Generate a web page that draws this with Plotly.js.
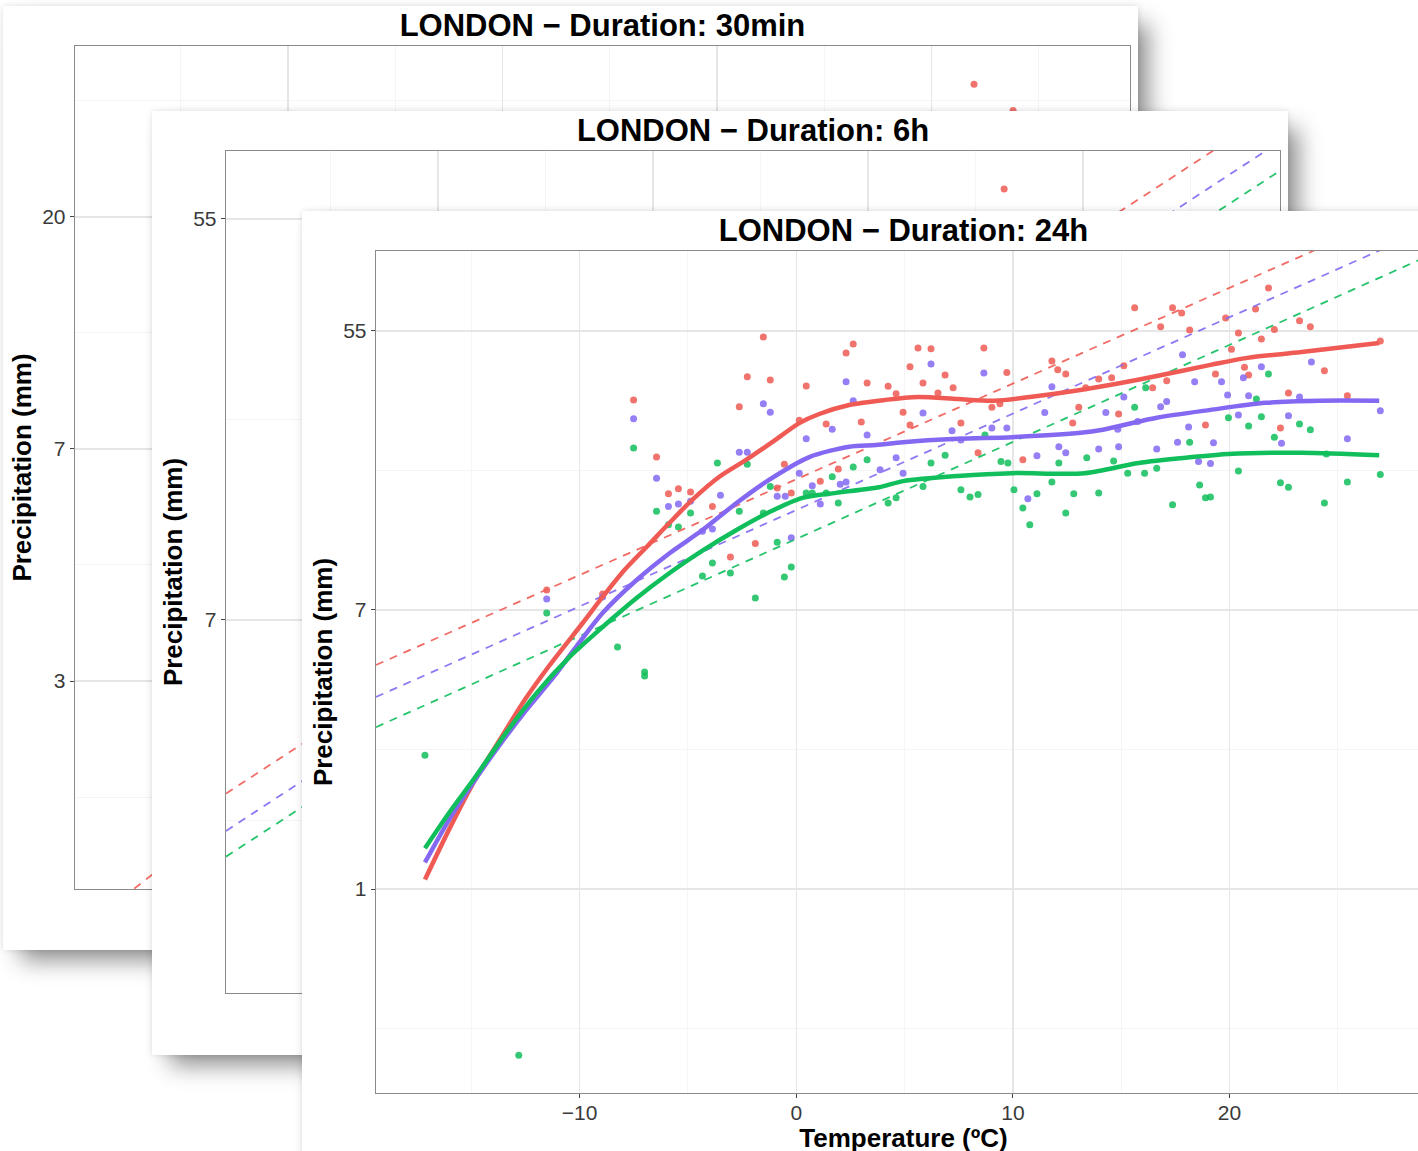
<!DOCTYPE html>
<html><head><meta charset="utf-8">
<script src="https://cdn.plot.ly/plotly-3.0.1.min.js"></script>
<style>
html,body{margin:0;padding:0;background:#fff;overflow:hidden;width:1418px;height:1151px;position:relative;}
.card{position:absolute;background:#fff;box-shadow:14px 14px 22px -4px rgba(0,0,0,0.45),0 0 6px rgba(0,0,0,0.12);}
</style></head><body>
<div id="p30" class="card" style="left:3px;top:6px;width:1135px;height:944px;z-index:1"></div>
<div id="p6" class="card" style="left:152px;top:111px;width:1136px;height:944px;z-index:2"></div>
<div id="p24" class="card" style="left:302px;top:211px;width:1137px;height:944px;z-index:3"></div>
<script>
// ---------- colours ----------
var RED = '#EF5B54', BLUE = '#8468F2', GREEN = '#10BE5C';
var FONT = '"Liberation Sans", Arial, Helvetica, sans-serif';

// ---------- x axis ticks (all panels) ----------
var xTickVals = [-10, 0, 10, 20];
var xTickText = ['\u221210', '0', '10', '20'];
var xMinorVals = [-15, -5, 5, 15, 25];

// ---------- Panel: LONDON - Duration: 24h ----------
var red24T = [-11.52,-8.94,-7.51,-6.45,-5.90,-5.44,-4.88,-3.87,-3.04,-2.63,-2.26,-1.52,-1.20,-1.89,-0.88,-0.55,-0.23,0.14,0.46,1.11,1.38,1.94,2.30,2.63,3.00,3.27,4.24,4.61,4.93,5.25,5.25,5.62,5.85,6.22,6.54,6.87,7.24,7.60,8.39,8.66,9.03,9.40,9.72,10.46,11.80,12.07,12.44,12.76,13.04,13.36,13.96,14.56,14.88,15.12,15.62,16.45,16.82,17.10,17.37,17.79,18.16,18.89,19.35,19.82,20.09,20.41,20.69,20.88,21.20,21.47,21.80,22.07,22.35,22.72,23.23,23.73,24.38,25.44,26.96];
var red24P = [8.53,8.29,33.3,22.1,17.0,17.6,17.2,15.5,10.8,31.7,39.3,52.3,38.4,11.9,17.7,21.0,17.1,28.8,36.8,18.6,28.0,20.3,46.6,49.7,28.4,37.6,36.7,34.8,30.5,42.2,27.8,48.3,37.6,48.0,35.0,39.8,36.3,28.2,22.8,48.3,31.6,32.4,40.5,21.7,44.0,41.3,40.1,28.2,31.6,36.3,38.7,39.0,30.1,42.5,64.4,36.3,56.2,38.2,64.4,62.1,55.0,27.8,40.1,59.9,47.9,53.8,42.1,39.8,63.9,51.5,74.3,55.1,27.2,35.0,58.7,56.2,41.0,34.3,50.8];
var blue24T = [-11.52,-8.94,-7.51,-6.45,-5.90,-5.44,-4.88,-4.33,-3.87,-3.50,-2.63,-2.26,-1.52,-1.20,-0.88,-0.51,-0.23,0.14,0.46,0.74,1.11,1.66,2.03,2.30,2.30,2.63,3.27,3.87,4.61,4.93,5.85,6.22,7.19,7.60,8.66,9.03,9.72,10.69,11.11,11.47,11.80,12.12,12.44,13.96,14.29,14.84,14.88,15.12,15.76,16.64,16.82,17.10,17.60,17.83,18.11,18.39,18.57,19.12,19.26,19.63,19.91,20.41,20.64,20.88,21.47,22.40,22.72,23.23,23.78,25.44,26.96];
var blue24P = [8.00,8.11,29.1,19.0,15.5,15.8,16.1,13.0,13.2,16.8,22.9,22.9,32.4,30.5,16.7,16.7,12.4,19.7,25.2,18.0,15.8,27.0,18.2,18.5,37.9,33.1,25.9,20.2,22.0,19.7,30.3,43.1,26.7,25.0,40.4,27.2,27.2,16.4,22.3,30.4,36.6,23.8,22.8,23.4,30.4,27.0,23.8,34.0,28.5,23.4,31.7,32.9,24.6,46.0,27.4,37.9,21.4,21.1,24.5,37.9,34.5,29.9,39.0,34.3,42.2,24.4,29.7,34.0,43.7,25.2,30.8];
var green24T = [-17.14,-12.81,-11.52,-8.25,-7.00,-7.00,-7.51,-6.45,-5.90,-5.44,-4.88,-4.33,-3.87,-3.64,-3.04,-2.63,-2.26,-1.89,-1.52,-1.20,-0.88,-0.55,-0.23,0.46,0.74,1.38,1.66,1.94,2.63,3.27,4.24,4.61,5.85,6.22,6.87,7.60,8.02,8.39,8.71,9.45,9.77,10.05,10.46,10.78,11.11,11.80,12.12,12.44,12.81,13.41,13.96,14.65,15.30,15.62,16.13,16.08,16.64,17.37,18.16,18.62,18.89,19.12,19.95,20.41,20.88,21.24,21.47,21.80,22.07,22.35,22.72,23.23,23.73,24.38,24.47,25.44,26.96];
var green24P = [2.61,0.304,7.23,5.67,4.74,4.60,23.6,15.0,13.6,13.4,14.8,9.43,10.35,21.2,9.63,15.0,21.0,8.05,14.8,17.9,12.0,9.36,10.06,17.1,17.1,17.1,19.2,15.9,20.6,21.7,15.9,16.5,17.9,21.2,22.4,17.5,16.6,16.9,25.9,21.4,21.2,17.5,15.35,13.6,17.0,18.5,21.2,14.8,17.0,22.0,17.1,21.5,19.7,31.6,36.3,19.7,20.4,15.7,24.6,18.1,16.5,16.6,29.3,20.0,27.6,33.5,29.5,40.1,25.5,18.4,17.8,28.0,26.9,15.9,22.6,18.5,19.5];
var smRed24T = [-17.14,-15.99,-14.84,-13.69,-12.53,-11.38,-9.86,-8.94,-7.93,-6.91,-5.85,-4.79,-3.55,-2.30,-1.11,0.14,1.06,2.44,4.10,5.62,7.47,9.12,10.78,12.81,14.98,16.64,19.12,20.83,23.32,26.91];
var smRed24P = [1.07,1.55,2.18,2.91,3.88,4.98,6.73,8.11,9.84,11.6,13.8,16.3,19.2,21.7,24.6,28.2,30.1,32.1,33.3,34.0,33.5,33.1,34.0,35.5,37.6,39.5,42.8,45.0,46.9,50.1];
var smBlue24T = [-17.14,-15.99,-14.84,-13.69,-12.53,-11.06,-10.00,-8.94,-7.37,-5.85,-4.33,-2.76,-1.24,0.60,2.44,3.69,4.93,7.47,9.95,13.13,14.15,16.64,19.12,21.66,24.15,26.91];
var smBlue24P = [1.21,1.66,2.18,2.81,3.56,4.70,5.87,7.23,9.16,11.1,13.1,15.9,18.8,22.1,23.8,24.1,24.6,25.2,25.5,26.3,26.9,29.3,31.0,32.6,33.1,33.1];
var smGreen24T = [-17.14,-15.99,-14.84,-13.46,-11.98,-10.46,-8.94,-7.37,-5.85,-4.33,-2.76,-1.24,0.28,1.84,3.82,4.93,7.47,9.95,13.32,15.81,18.29,19.95,23.32,26.91];
var smGreen24P = [1.34,1.74,2.22,3.02,4.08,5.28,6.54,8.05,9.63,11.3,13.1,14.9,16.5,17.1,17.8,18.6,19.3,19.7,19.7,21.2,22.1,22.6,22.8,22.4];
var lm24T = [-19.4, 29.3];
var lmRed24P = [4.98, 140.7];
var lmBlue24P = [3.96, 114.5];
var lmGreen24P = [3.19, 94.3];
var xLim24 = [-19.4, 29.3];
var yLim24 = [0.2318, 96.8];
var yTick24 = [1, 7.389, 54.598];
var yText24 = ['1', '7', '55'];
var yMinor24 = [0.3679, 2.718, 20.086, 148.41];

// ---------- Panel: LONDON - Duration: 6h (mostly hidden) ----------
var red6hT = [16.33];
var red6hP = [63.4];
var lm6hT = [-19.86, 29.16];
var lmRed6hP = [3.11, 95.3];
var lmBlue6hP = [2.58, 80.3];
var lmGreen6hP = [2.27, 69.4];
var xLim6h = [-19.86, 29.16];
var yLim6h = [1.150, 76.6];
var yTick6h = [7.389, 54.598];
var yText6h = ['7', '55'];
var yMinor6h = [2.718, 20.086, 148.41];

// ---------- Panel: LONDON - Duration: 30min (mostly hidden) ----------
var red30T = [21.98, 23.80];
var red30P = [35.6, 31.8];
var lm30T = [-19.93, 29.25];
var lmRed30P = [0.911, 31.2];
var lmBlue30P = [0.75, 26.0];
var lmGreen30P = [0.62, 22.0];
var xLim30 = [-19.93, 29.25];
var yLim30 = [1.109, 41.97];
var yTick30 = [2.718, 7.389, 20.086];
var yText30 = ['3', '7', '20'];
var yMinor30 = [1.6487, 4.4817, 12.1825, 33.1155];

// ---------- helpers ----------
function pts(x, y, c) {
  return {type:'scatter', mode:'markers', x:x, y:y, hoverinfo:'skip',
          marker:{color:c, size:7, opacity:0.85, line:{width:0}}};
}
function dashed(x, y, c) {
  return {type:'scatter', mode:'lines', x:x, y:y, hoverinfo:'skip', opacity:0.9,
          line:{color:c, width:1.8, dash:'8px,7px'}};
}
function smooth(x, y, c) {
  return {type:'scatter', mode:'lines', x:x, y:y, hoverinfo:'skip',
          line:{color:c, width:4.5, shape:'spline', smoothing:0.8}};
}
function makeLayout(o) {
  return {
    width:o.w, height:o.h,
    margin:{l:o.l, r:o.r, t:o.t, b:o.b, pad:0},
    paper_bgcolor:'rgba(0,0,0,0)', plot_bgcolor:'#ffffff',
    showlegend:false,
    font:{family:FONT, color:'#000'},
    title:{text:'<b>' + o.title + '</b>', x:0.5, xref:'paper', xanchor:'center',
           y:1 - 19 / o.h, yref:'container', yanchor:'middle',
           font:{family:FONT, size:31, color:'#000'}},
    xaxis:{range:o.xr, tickmode:'array', tickvals:xTickVals, ticktext:xTickText,
           ticks:'outside', ticklen:4, tickwidth:1, tickcolor:'#444', ticklabelstandoff:-4,
           tickfont:{family:FONT, size:21, color:'#3a3a3a'},
           showgrid:true, gridcolor:'#e6e6e6', gridwidth:1.2,
           minor:{tickmode:'array', tickvals:xMinorVals, showgrid:true, gridcolor:'#f1f1f1', gridwidth:0.7, ticks:''},
           showline:true, mirror:true, linecolor:'#8a8a8a', linewidth:1.3, zeroline:false,
           title:{text:'<b>Temperature (\u00baC)</b>', standoff:0, font:{family:FONT, size:26, color:'#000'}}},
    yaxis:{type:'log', range:[Math.log10(o.yr[0]), Math.log10(o.yr[1])],
           tickmode:'array', tickvals:o.yt, ticktext:o.ytt,
           ticks:'outside', ticklen:4, tickwidth:1, tickcolor:'#444',
           tickfont:{family:FONT, size:21, color:'#3a3a3a'},
           showgrid:true, gridcolor:'#e6e6e6', gridwidth:1.2,
           minor:{tickmode:'array', tickvals:o.ym, showgrid:true, gridcolor:'#f1f1f1', gridwidth:0.7, ticks:''},
           showline:true, mirror:true, linecolor:'#8a8a8a', linewidth:1.3, zeroline:false,
           title:{text:'<b>Precipitation (mm)</b>', standoff:3, font:{family:FONT, size:26, color:'#000'}}}
  };
}
var cfg = {staticPlot:true, displayModeBar:false};

// 30 min panel
Plotly.newPlot('p30', [
  pts(red30T, red30P, RED),
  dashed(lm30T, lmRed30P, RED), dashed(lm30T, lmBlue30P, BLUE), dashed(lm30T, lmGreen30P, GREEN)
], makeLayout({w:1135, h:944, l:72, r:8, t:40, b:61, title:'LONDON \u2212 Duration: 30min',
  xr:xLim30, yr:yLim30, yt:yTick30, ytt:yText30, ym:yMinor30}), cfg);

// 6 h panel
Plotly.newPlot('p6', [
  pts(red6hT, red6hP, RED),
  dashed(lm6hT, lmRed6hP, RED), dashed(lm6hT, lmBlue6hP, BLUE), dashed(lm6hT, lmGreen6hP, GREEN)
], makeLayout({w:1136, h:944, l:74, r:8, t:40, b:62, title:'LONDON \u2212 Duration: 6h',
  xr:xLim6h, yr:yLim6h, yt:yTick6h, ytt:yText6h, ym:yMinor6h}), cfg);

// 24 h panel
Plotly.newPlot('p24', [
  pts(red24T, red24P, RED), pts(blue24T, blue24P, BLUE), pts(green24T, green24P, GREEN),
  dashed(lm24T, lmRed24P, RED), dashed(lm24T, lmBlue24P, BLUE), dashed(lm24T, lmGreen24P, GREEN),
  smooth(smRed24T, smRed24P, RED), smooth(smBlue24T, smBlue24P, BLUE), smooth(smGreen24T, smGreen24P, GREEN)
], makeLayout({w:1137, h:944, l:74, r:8, t:40, b:62, title:'LONDON \u2212 Duration: 24h',
  xr:xLim24, yr:yLim24, yt:yTick24, ytt:yText24, ym:yMinor24}), cfg);
</script>
</body></html>
